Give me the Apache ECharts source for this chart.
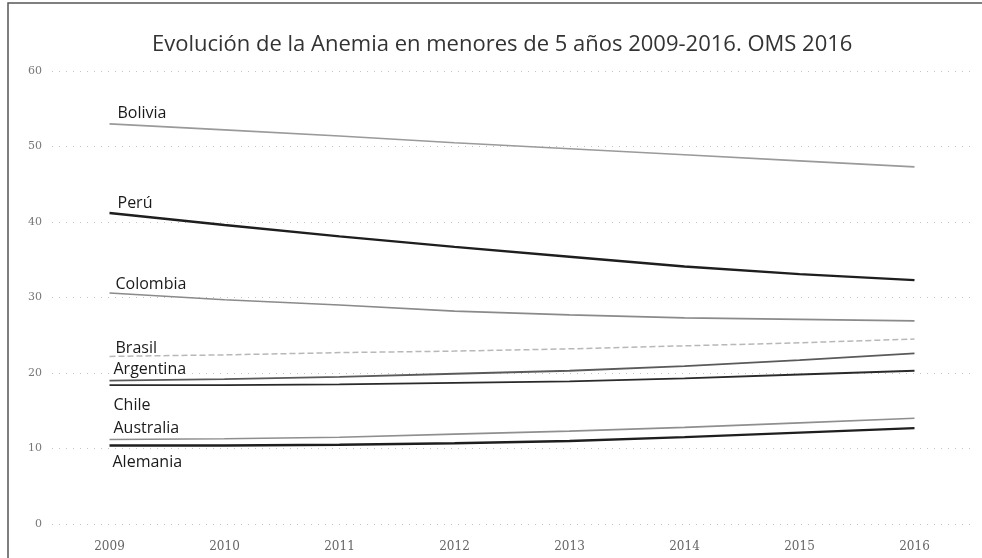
<!DOCTYPE html>
<html>
<head>
<meta charset="utf-8">
<script src="https://cdn.jsdelivr.net/npm/echarts@6/dist/echarts.min.js"></script>
<style>html,body{margin:0;padding:0;background:#fff}#c{width:982px;height:558px}</style>
</head>
<body>
<div id="c"></div>
<script>
// ---- data ----
const years = ['2009','2010','2011','2012','2013','2014','2015','2016'];
const bolivia   = [53.0, 52.2, 51.4, 50.5, 49.7, 48.9, 48.1, 47.3];
const peru      = [41.2, 39.6, 38.1, 36.7, 35.4, 34.1, 33.1, 32.3];
const colombia  = [30.6, 29.7, 29.0, 28.2, 27.7, 27.3, 27.1, 26.9];
const brasil    = [22.2, 22.4, 22.7, 22.9, 23.2, 23.6, 24.0, 24.5];
const argentina = [19.0, 19.2, 19.5, 19.9, 20.3, 20.9, 21.7, 22.6];
const chile     = [18.4, 18.4, 18.5, 18.7, 18.9, 19.3, 19.8, 20.3];
const australia = [11.2, 11.3, 11.5, 11.9, 12.3, 12.8, 13.4, 14.0];
const alemania  = [10.4, 10.4, 10.5, 10.7, 11.0, 11.5, 12.1, 12.7];
const yTicks = [0, 10, 20, 30, 40, 50, 60];
const title = 'Evolución de la Anemia en menores de 5 años 2009-2016. OMS 2016';

const seriesData = [
  ['Bolivia', bolivia],
  ['Perú', peru],
  ['Colombia', colombia],
  ['Brasil', brasil],
  ['Argentina', argentina],
  ['Chile', chile],
  ['Australia', australia],
  ['Alemania', alemania]
];

// ---- styles ----
const styles = {
  'Bolivia':   {color:'#9a9a9a', width:1.6, type:'solid', pos:'top', off:[8,3]},
  'Perú':      {color:'#1e1e1e', width:2.4, type:'solid', pos:'top', off:[8,3]},
  'Colombia':  {color:'#8a8a8a', width:1.6, type:'solid', pos:'top', off:[6,4]},
  'Brasil':    {color:'#b8b8b8', width:1.5, type:'dashed', pos:'top', off:[6,5]},
  'Argentina': {color:'#5a5a5a', width:1.8, type:'solid', pos:'top', off:[4,2]},
  'Chile':     {color:'#2a2a2a', width:1.8, type:'solid', pos:'bottom', off:[4,7]},
  'Australia': {color:'#8f8f8f', width:1.6, type:'solid', pos:'top', off:[4,2]},
  'Alemania':  {color:'#1e1e1e', width:2.4, type:'solid', pos:'bottom', off:[3,4]}
};

const series = seriesData.map(([name, vals]) => {
  const s = styles[name];
  return {
    name, type:'line', showSymbol:true, symbol:'circle', symbolSize:0,
    silent:true, animation:false,
    lineStyle:{color:s.color, width:s.width, type:s.type},
    itemStyle:{color:s.color},
    data: vals.map((v,i) => i === 0 ? {
      value:v,
      label:{show:true, formatter:name, position:s.pos, align:'left', offset:s.off,
             color:'#1a1a1a', fontSize:16, fontFamily:'Open Sans'}
    } : v)
  };
});

const chart = echarts.init(document.getElementById('c'), null, {renderer:'canvas'});
chart.setOption({
  backgroundColor:'#ffffff',
  animation:false,
  title:{text:title, left:147, top:29,
    textStyle:{fontFamily:'Open Sans', fontSize:22, fontWeight:'normal', color:'#333'}},
  grid:{left:52, right:10, top:71, bottom:34},
  xAxis:{type:'category', data:years, boundaryGap:true,
    axisLine:{show:false}, axisTick:{show:false},
    axisLabel:{color:'#666', fontSize:12, fontFamily:'DejaVu Serif', margin:17}},
  yAxis:{type:'value', min:0, max:60, interval:10,
    axisLine:{show:false}, axisTick:{show:false},
    axisLabel:{color:'#777', fontSize:11, fontFamily:'DejaVu Serif', margin:10,
      formatter:v => yTicks.includes(v) ? String(v) : ''},
    splitLine:{show:true, lineStyle:{color:'#c4c4c4', type:[1,6], width:1}}},
  graphic:[{type:'rect', shape:{x:8, y:3, width:1100, height:600},
    style:{fill:'none', stroke:'#555', lineWidth:1.5}, silent:true}],
  series
});
</script>
</body>
</html>
